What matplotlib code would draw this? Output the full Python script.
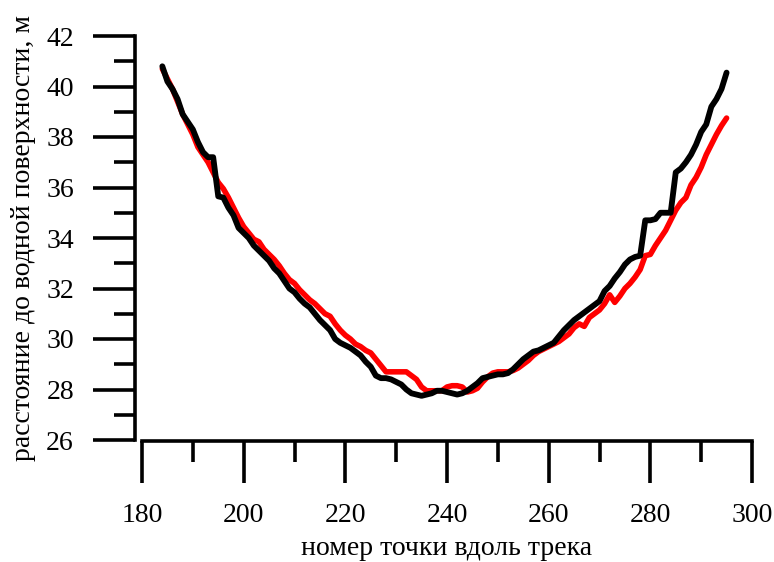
import matplotlib
matplotlib.use("Agg")
import matplotlib.pyplot as plt
from matplotlib.ticker import MultipleLocator

point_index = list(range(184, 296))

depth_red = [
    40.7, 40.3, 39.9, 39.4, 38.9, 38.5, 38.1, 37.6, 37.3, 37.0,   # 184-193
    36.6, 36.2, 35.95, 35.6, 35.2, 34.8, 34.45, 34.2, 33.95, 33.85,  # 194-203
    33.55, 33.35, 33.15, 32.9, 32.6, 32.35, 32.2, 31.95, 31.75, 31.55,  # 204-213
    31.4, 31.2, 31.0, 30.9, 30.6, 30.35, 30.15, 30.0, 29.8, 29.7,  # 214-223
    29.55, 29.45, 29.2, 28.95, 28.7, 28.7, 28.7, 28.7, 28.7, 28.55,  # 224-233
    28.4, 28.1, 27.95, 27.95, 27.95, 27.95, 28.1, 28.15, 28.15, 28.1,  # 234-243
    27.9, 27.95, 28.05, 28.3, 28.5, 28.65, 28.7, 28.7, 28.7, 28.75,  # 244-253
    28.85, 29.0, 29.15, 29.35, 29.5, 29.6, 29.7, 29.8, 29.9, 30.05,  # 254-263
    30.2, 30.45, 30.6, 30.5, 30.85, 31.0, 31.15, 31.4, 31.75, 31.45,  # 264-273
    31.7, 32.0, 32.2, 32.45, 32.75, 33.3, 33.35, 33.7, 34.0, 34.3,  # 274-283
    34.7, 35.1, 35.4, 35.6, 36.1, 36.4, 36.8, 37.3, 37.7, 38.1,  # 284-293
    38.45, 38.75,  # 294-295
]

depth_black = [
    40.8, 40.2, 39.9, 39.5, 38.9, 38.6, 38.3, 37.8, 37.4, 37.2,  # 184-193
    37.2, 35.65, 35.6, 35.2, 34.9, 34.4, 34.2, 34.0, 33.7, 33.5,  # 194-203
    33.3, 33.1, 32.8, 32.6, 32.3, 32.0, 31.85, 31.6, 31.4, 31.25,  # 204-213
    31.0, 30.75, 30.55, 30.35, 30.0, 29.85, 29.75, 29.65, 29.5, 29.35,  # 214-223
    29.1, 28.9, 28.55, 28.45, 28.45, 28.4, 28.3, 28.2, 28.0, 27.85,  # 224-233
    27.8, 27.75, 27.8, 27.85, 27.95, 27.95, 27.9, 27.85, 27.8, 27.85,  # 234-243
    27.95, 28.1, 28.25, 28.45, 28.5, 28.55, 28.6, 28.6, 28.65, 28.8,  # 244-253
    29.0, 29.2, 29.35, 29.5, 29.55, 29.65, 29.75, 29.85, 30.1, 30.35,  # 254-263
    30.55, 30.75, 30.9, 31.05, 31.2, 31.35, 31.5, 31.9, 32.1, 32.4,  # 264-273
    32.65, 32.95, 33.15, 33.25, 33.3, 34.7, 34.7, 34.75, 35.0, 35.0,  # 274-283
    35.0, 36.6, 36.75, 37.0, 37.3, 37.7, 38.2, 38.5, 39.2, 39.5,  # 284-293
    39.9, 40.55,  # 294-295
]

x_label = "номер точки вдоль трека"
y_label = "расстояние до водной поверхности, м"

plt.rcParams['font.family'] = ['Liberation Serif', 'DejaVu Serif']

W, H = 774, 562
fig = plt.figure(figsize=(W / 100, H / 100), dpi=100)
left = 142 / W
right = 752 / W
bottom = (H - 440) / H
top = (H - 36) / H
ax = fig.add_axes([left, bottom, right - left, top - bottom])

ax.plot(point_index, depth_red, color='#ff0000', lw=4.0, solid_joinstyle='round',
        solid_capstyle='round', zorder=3)
ax.plot(point_index, depth_black, color='black', lw=4.2, solid_joinstyle='round',
        solid_capstyle='round', zorder=4)

ax.set_xlim(180, 300)
ax.set_ylim(26, 42)
ax.xaxis.set_major_locator(MultipleLocator(20))
ax.xaxis.set_minor_locator(MultipleLocator(10))
ax.yaxis.set_major_locator(MultipleLocator(2))
ax.yaxis.set_minor_locator(MultipleLocator(1))

for s in ['top', 'right']:
    ax.spines[s].set_visible(False)
for s in ['left', 'bottom']:
    ax.spines[s].set_linewidth(2.6)
ax.spines['left'].set_position(('outward', 5))
ax.spines['bottom'].set_position(('outward', 1))

ax.tick_params(which='major', direction='out', length=30, width=2.6,
               labelsize=20, pad=14)
ax.tick_params(which='minor', direction='out', length=15, width=2.6)

ax.set_xlabel(x_label, fontsize=20, labelpad=6)
ax.set_ylabel(y_label, fontsize=20, labelpad=7)

fig.savefig("out.png", dpi=100)
